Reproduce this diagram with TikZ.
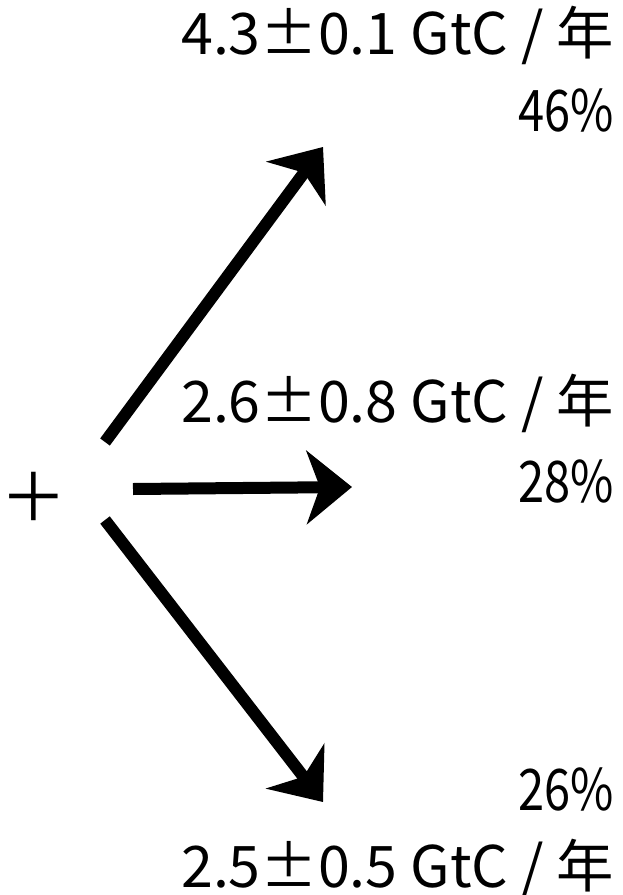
\documentclass[tikz,border=0pt]{standalone}
\usepackage{fontspec}
\setmainfont{Noto Sans CJK JP}
\usetikzlibrary{arrows.meta}

\begin{document}
\begin{tikzpicture}[
  x=0.75pt, y=-0.75pt,
  flux/.style={anchor=base east, inner sep=0pt, font=\fontsize{43}{50}\selectfont},
  share/.style={flux, xscale=0.82, transform shape},
  arrow/.style={-{Stealth[length=34pt, width=55pt, inset=10pt]}, line width=9pt},
  source/.style={inner sep=0pt, font=\fontsize{50}{60}\selectfont}
]
  \useasboundingbox (0,0) rectangle (622,895);

  \node[source] (plus) at (34,497) {＋};

  \node[flux] (upflux) at (614,55) {4.3±0.1 GtC / 年};
  \node[share] (upshare) at (614,132) {46\%};
  \node[flux] (midflux) at (614,422) {2.6±0.8 GtC / 年};
  \node[share] (midshare) at (614,502) {28\%};
  \node[share] (downshare) at (614,810) {26\%};
  \node[flux] (downflux) at (614,887) {2.5±0.5 GtC / 年};

  \coordinate (uptail) at (105,442);
  \coordinate (uptip) at (323,147);
  \coordinate (midtail) at (133,489);
  \coordinate (midtip) at (352,487);
  \coordinate (downtail) at (105,520);
  \coordinate (downtip) at (323,802);

  \draw[arrow] (uptail) -- (uptip);
  \draw[arrow] (midtail) -- (midtip);
  \draw[arrow] (downtail) -- (downtip);
\end{tikzpicture}
\end{document}
